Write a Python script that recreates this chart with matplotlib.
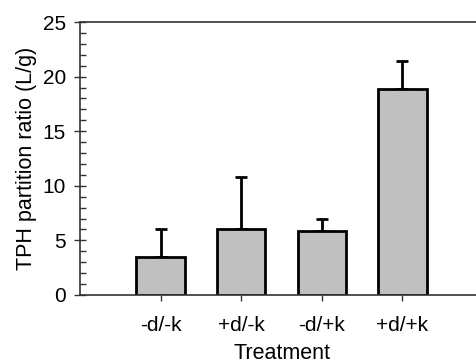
import matplotlib
matplotlib.use("Agg")
import matplotlib.pyplot as plt
from matplotlib.ticker import MultipleLocator

categories = ["-d/-k", "+d/-k", "-d/+k", "+d/+k"]
values = [3.48, 6.07, 5.89, 18.86]
errors = [2.52, 4.73, 1.07, 2.57]

plt.rcParams['font.family'] = ['Liberation Sans', 'DejaVu Sans']

fig = plt.figure(figsize=(4.76, 3.63), dpi=100)
W, H = 476, 363
left, right = 80, 483
top, bottom = 22, 295
ax = fig.add_axes([left / W, 1 - bottom / H, (right - left) / W, (bottom - top) / H])

x = list(range(1, len(categories) + 1))
ax.bar(x, values, width=0.6, color="#c0c0c0", edgecolor="black", linewidth=2, zorder=2)
ax.errorbar(x, values, yerr=[[0] * len(errors), errors], fmt="none", ecolor="black",
            elinewidth=2, capsize=4, capthick=2, zorder=1)

ax.set_xlim(0, 5)
ax.set_ylim(0, 25)
ax.set_xticks(x)
ax.set_xticklabels(categories)
ax.yaxis.set_major_locator(MultipleLocator(5))
ax.yaxis.set_minor_locator(MultipleLocator(1))
ax.tick_params(axis='y', which='major', direction='inout', length=8, width=1, labelsize=15, color="#333333", pad=6)
ax.tick_params(axis='y', which='minor', direction='in', length=4, width=1, color="#333333")
ax.tick_params(axis='x', which='major', direction='out', length=4, width=1, labelsize=15, color="#333333", pad=11)

for s in ['left', 'bottom', 'top']:
    ax.spines[s].set_color("#333333")
    ax.spines[s].set_linewidth(1.2)
ax.spines['right'].set_visible(False)

ax.set_ylabel("TPH partition ratio (L/g)", fontsize=15.5, labelpad=4)
ax.set_xlabel("Treatment", fontsize=15.5, labelpad=6)

fig.savefig("out.png", dpi=100)
